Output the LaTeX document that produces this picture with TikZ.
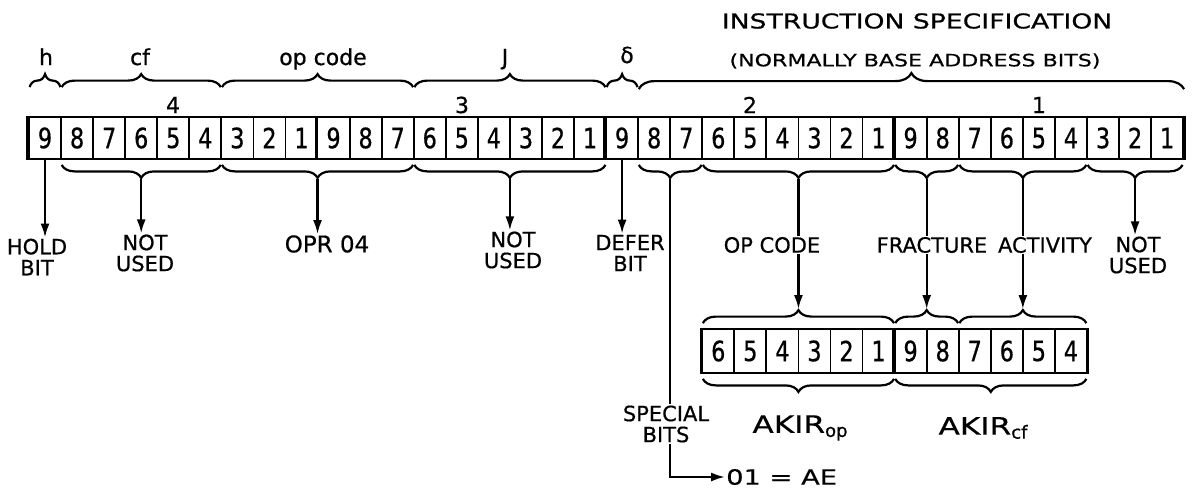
\documentclass[tikz,border=0pt]{standalone}
\usepackage{fontspec}
\setmainfont{DejaVu Sans}[FakeBold=0.6]
\newfontfamily\widefont{DejaVu Sans}[FakeStretch=1.3,FakeBold=0.6]
\newfontfamily\tallfont{DejaVu Sans}[FakeStretch=0.8,FakeBold=0.6]
\usetikzlibrary{arrows.meta,decorations.pathreplacing,calc}

\newcommand{\fsz}[2][]{\fontsize{#2}{#2}\selectfont}
\newcommand{\lowsub}[1]{\raisebox{-4pt}{\normalfont\fsz{18}#1}}

\begin{document}
\begin{tikzpicture}[x=1pt,y=-1pt,
  cell/.style={draw, line width=1.8pt, minimum width=32.06pt, minimum height=42pt, inner sep=0pt, font=\tallfont\fsz{28}},
  brc/.style={decorate, decoration={brace, amplitude=13pt}, line width=2.2pt},
  brcb/.style={decorate, decoration={brace, amplitude=13pt, mirror}, line width=2.2pt},
  wire/.style={line width=2.2pt},
  arr/.style={line width=2.2pt, -{Latex[length=14pt,width=9pt]}},
  lbl/.style={align=center, inner sep=1pt, font=\fontsize{21}{21}\selectfont},
  mid/.style={inner sep=1pt, font=\fsz{21}}]
\useasboundingbox (0,0) rectangle (1192,493);

% headings
\node[font=\widefont\fsz{20.5}] (title) at (917,21) {INSTRUCTION SPECIFICATION};
\node[font=\widefont\fsz{17}] (paren) at (915,61) {(NORMALLY BASE ADDRESS BITS)};
\node[font=\fsz{22}, anchor=base] (th) at (46,65) {h};
\node[font=\fsz{22}, anchor=base] (tcf) at (140,65) {cf};
\node[font=\fsz{22}, anchor=base] (top) at (323,65) {op code};
\node[font=\fsz{22}, anchor=base] (tj) at (505,65) {J};
\node[font=\fsz{22}, anchor=base] (td) at (627,63) {δ};

% word numbers
\node[font=\fsz{22}] (g4) at (173,105) {4};
\node[font=\fsz{22}] (g3) at (462,105) {3};
\node[font=\fsz{22}] (g2) at (750,105) {2};
\node[font=\fsz{22}] (g1) at (1039,105) {1};

% main register
\foreach \i in {0,...,35} {
  \pgfmathtruncatemacro\d{9-mod(\i,9)}
  \node[cell] (m\i) at (45.03+32.06*\i,138) {\d};
}
\foreach \i in {0,9,18,27}
  \draw[line width=3.5pt] (m\i.north west) -- (m\i.south west);
\draw[line width=3pt] (m35.north east) -- (m35.south east);

% field braces above
\foreach \a/\b in {0/0,1/5,6/11,12/17,18/18}
  \draw[brc] ([shift={(1.5,-29)}]m\a.north west) -- ([shift={(-1.5,-29)}]m\b.north east);
\draw[brc, decoration={amplitude=16pt}] ([shift={(1.5,-27)}]m19.north west) -- ([shift={(0,-27)}]m35.north east);

% braces below
\foreach \a/\b in {1/5,6/11,12/17,19/20,21/26,27/28,29/32,33/35} {
  \draw[brcb] ([shift={(1.5,5)}]m\a.south west) -- ([shift={(-1.5,5)}]m\b.south east);
  \coordinate (b\a) at ($(m\a.south west)!0.5!(m\b.south east)+(0,19)$);
}

% lower register
\foreach \j in {0,...,11} {
  \pgfmathtruncatemacro\k{21+\j}
  \pgfmathtruncatemacro\d{9-mod(\k,9)}
  \node[cell, minimum height=44pt] (l\j) at (45.03+32.06*\k,351) {\d};
}
\draw[line width=3pt] (l0.north west) -- (l0.south west);
\draw[line width=3pt] (l6.north west) -- (l6.south west);
\draw[line width=3pt] (l11.north east) -- (l11.south east);
\foreach \a/\b in {0/5,6/7,8/11} {
  \draw[brc] ([shift={(1.5,-5)}]l\a.north west) -- ([shift={(-1.5,-5)}]l\b.north east);
  \coordinate (lt\a) at ($(l\a.north west)!0.5!(l\b.north east)+(0,-19)$);
}
\draw[brcb] ([shift={(1.5,5)}]l0.south west) -- ([shift={(-1.5,5)}]l5.south east);
\draw[brcb] ([shift={(1.5,5)}]l6.south west) -- ([shift={(-1.5,5)}]l11.south east);

% labels
\node[lbl] (hold) at (37,257) {HOLD\\BIT};
\node[lbl] (nu1) at (145,253) {NOT\\USED};
\node[mid, font=\fsz{23}] (opr) at (327,244) {OPR 04};
\node[lbl] (nu2) at (513,250) {NOT\\USED};
\node[lbl] (defer) at (630,253) {DEFER\\BIT};
\node[mid] (opc) at (772,245) {OP CODE};
\node[mid] (frac) at (932,245) {FRACTURE};
\node[mid] (act) at (1045,245) {ACTIVITY};
\node[lbl] (nu3) at (1138,255) {NOT\\USED};
\node[lbl] (spec) at (666,424) {SPECIAL\\BITS};
\node[font=\widefont\fsz{24}] (akop) at (800,428) {AKIR\lowsub{op}};
\node[font=\widefont\fsz{24}] (akcf) at (983,428) {AKIR\lowsub{cf}};
\node[font=\widefont\fsz{21}, anchor=west, inner sep=1pt] (ae) at (725,477) {01 = AE};

% connectors
\draw[arr] (m0.south) -- (m0.south |- hold.north);
\draw[arr] (b1) -- (b1 |- nu1.north);
\draw[arr] (b6) -- (b6 |- opr.north);
\draw[arr] (b12) -- (b12 |- nu2.north);
\draw[arr] (m18.south) -- (m18.south |- defer.north);
\draw[arr] (b33) -- (b33 |- nu3.north);
\draw[wire] (b19) -- (b19 |- spec.north);
\draw[arr] (b19 |- spec.south) |- (ae.west);
\draw[wire] (b21) -- (b21 |- opc.north);
\draw[arr] (b21 |- opc.south) -- (lt0);
\draw[wire] (b27) -- (b27 |- frac.north);
\draw[arr] (b27 |- frac.south) -- (lt6);
\draw[wire] (b29) -- (b29 |- act.north);
\draw[arr] (b29 |- act.south) -- (lt8);
\end{tikzpicture}
\end{document}
